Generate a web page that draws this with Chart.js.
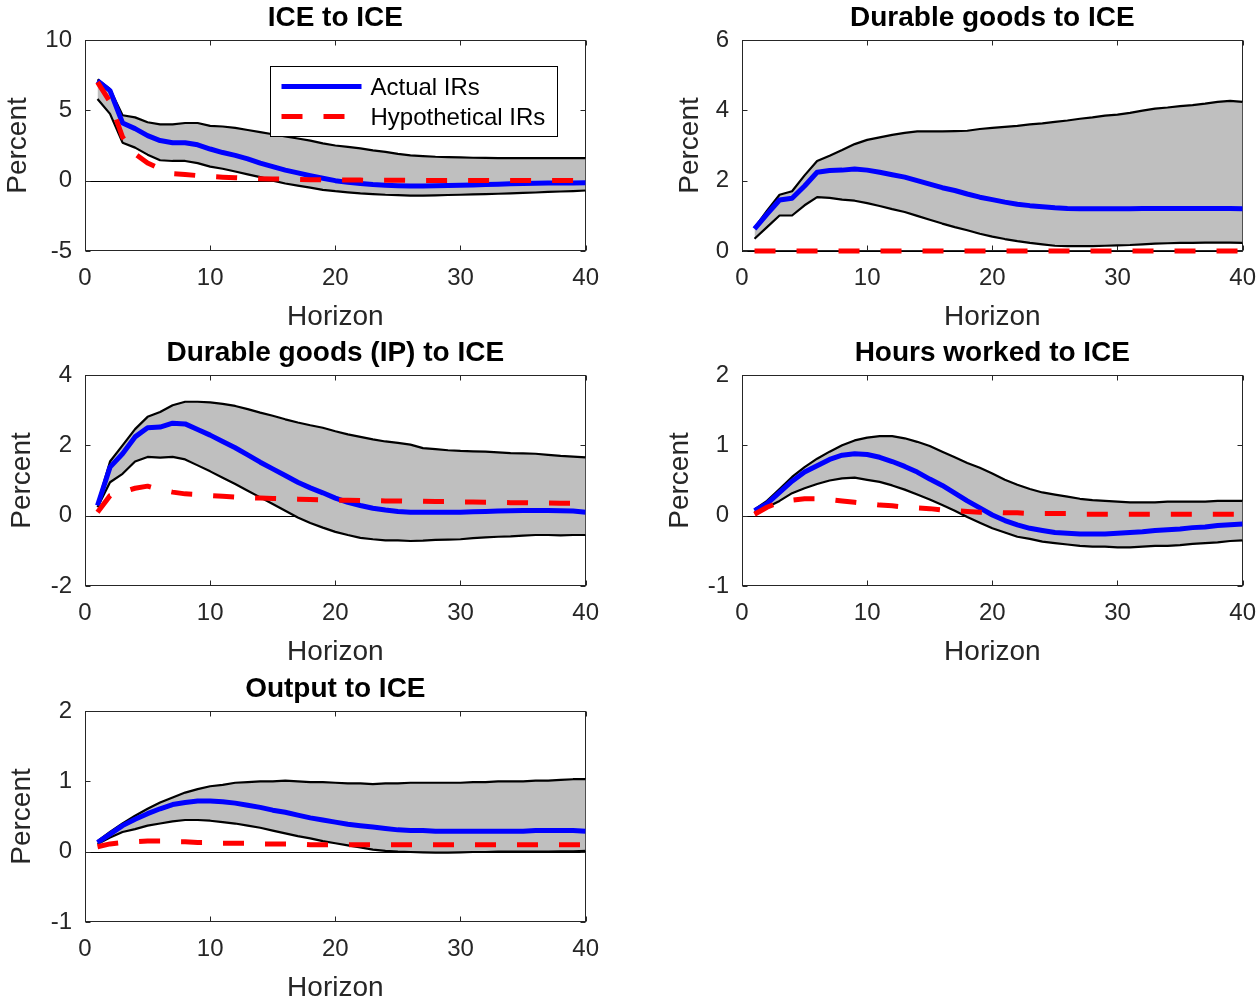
<!DOCTYPE html>
<html>
<head>
<meta charset="utf-8">
<script src="https://cdn.jsdelivr.net/npm/chart.js@4.4.1/dist/chart.umd.min.js"></script>
<style>
body{margin:0;background:#fff;width:1258px;height:1002px;overflow:hidden;position:relative}
canvas{position:absolute}
</style>
</head>
<body>
<canvas id="p1" width="612" height="335" style="left:0;top:0"></canvas>
<canvas id="p2" width="612" height="335" style="left:657px;top:0"></canvas>
<canvas id="p3" width="612" height="335" style="left:0;top:335px"></canvas>
<canvas id="p4" width="612" height="335" style="left:657px;top:335px"></canvas>
<canvas id="p5" width="612" height="335" style="left:0;top:671px"></canvas>
<script>
const horizon = [1,2,3,4,5,6,7,8,9,10,11,12,13,14,15,16,17,18,19,20,21,22,23,24,25,26,27,28,29,30,31,32,33,34,35,36,37,38,39,40]

// ICE to ICE
const iceActual = [7.1,6.4,4.1,3.7,3.2,2.85,2.7,2.7,2.55,2.25,2.0,1.8,1.55,1.25,1.0,0.75,0.55,0.35,0.17,0.0,-0.12,-0.2,-0.28,-0.33,-0.36,-0.38,-0.38,-0.37,-0.35,-0.32,-0.3,-0.28,-0.25,-0.22,-0.2,-0.18,-0.17,-0.16,-0.16,-0.15]
const iceUpper = [7.2,6.5,4.65,4.5,4.15,4.0,4.0,4.1,4.1,3.9,3.85,3.75,3.6,3.45,3.3,3.15,3.0,2.85,2.65,2.5,2.4,2.3,2.15,2.05,1.9,1.8,1.75,1.7,1.68,1.65,1.63,1.62,1.6,1.6,1.6,1.6,1.6,1.6,1.6,1.6]
const iceLower = [5.8,4.75,2.7,2.35,1.85,1.45,1.4,1.4,1.25,1.0,0.85,0.65,0.45,0.25,0.0,-0.2,-0.35,-0.5,-0.65,-0.75,-0.83,-0.9,-0.95,-1.0,-1.03,-1.07,-1.07,-1.05,-1.02,-1.0,-0.98,-0.96,-0.93,-0.9,-0.87,-0.84,-0.8,-0.77,-0.74,-0.7]
const iceHypo = [7.0,5.6,3.1,1.9,1.25,0.85,0.5,0.44,0.36,0.3,0.25,0.21,0.17,0.14,0.12,0.1,0.08,0.07,0.06,0.05,0.04,0.04,0.03,0.03,0.03,0.02,0.02,0.02,0.02,0.02,0.02,0.02,0.02,0.02,0.02,0.02,0.02,0.02,0.02,0.02]

// Durable goods to ICE
const durActual = [0.63,1.05,1.45,1.5,1.85,2.24,2.29,2.3,2.33,2.3,2.24,2.17,2.1,2.0,1.9,1.8,1.72,1.62,1.53,1.46,1.39,1.33,1.29,1.26,1.23,1.21,1.2,1.2,1.2,1.2,1.2,1.21,1.21,1.21,1.21,1.21,1.21,1.21,1.21,1.2]
const durUpper = [0.66,1.15,1.6,1.7,2.15,2.56,2.71,2.87,3.04,3.16,3.23,3.3,3.36,3.4,3.4,3.4,3.41,3.42,3.47,3.5,3.53,3.56,3.6,3.63,3.67,3.71,3.76,3.8,3.85,3.88,3.93,3.99,4.05,4.08,4.12,4.15,4.19,4.24,4.27,4.24]
const durLower = [0.35,0.68,1.01,1.01,1.3,1.53,1.51,1.46,1.43,1.36,1.28,1.19,1.11,1.0,0.89,0.78,0.68,0.59,0.49,0.41,0.34,0.28,0.23,0.19,0.15,0.14,0.14,0.14,0.15,0.16,0.17,0.19,0.21,0.22,0.23,0.23,0.24,0.24,0.24,0.23]
const durHypo = [0,0,0,0,0,0,0,0,0,0,0,0,0,0,0,0,0,0,0,0,0,0,0,0,0,0,0,0,0,0,0,0,0,0,0,0,0,0,0,0]

// Durable goods (IP) to ICE
const ipActual = [0.29,1.38,1.76,2.24,2.5,2.52,2.63,2.61,2.45,2.29,2.11,1.93,1.73,1.52,1.33,1.14,0.95,0.79,0.65,0.5,0.38,0.29,0.21,0.16,0.12,0.1,0.1,0.1,0.1,0.1,0.11,0.12,0.13,0.14,0.15,0.15,0.15,0.14,0.13,0.1]
const ipUpper = [0.33,1.54,2.0,2.46,2.81,2.95,3.14,3.24,3.24,3.22,3.18,3.12,3.03,2.93,2.84,2.74,2.65,2.57,2.5,2.4,2.31,2.24,2.17,2.11,2.07,2.02,1.92,1.89,1.86,1.84,1.83,1.82,1.8,1.78,1.77,1.76,1.73,1.7,1.68,1.66]
const ipLower = [0.24,0.95,1.19,1.54,1.67,1.65,1.67,1.6,1.43,1.26,1.08,0.9,0.71,0.52,0.33,0.14,-0.05,-0.21,-0.34,-0.46,-0.55,-0.63,-0.67,-0.7,-0.7,-0.72,-0.71,-0.69,-0.68,-0.67,-0.64,-0.62,-0.6,-0.59,-0.57,-0.55,-0.55,-0.56,-0.55,-0.55]
const ipHypo = [0.1,0.57,0.67,0.78,0.84,0.74,0.67,0.62,0.6,0.57,0.55,0.53,0.51,0.5,0.49,0.48,0.47,0.46,0.45,0.44,0.44,0.43,0.43,0.42,0.42,0.41,0.41,0.4,0.4,0.39,0.39,0.38,0.38,0.37,0.37,0.36,0.36,0.35,0.35,0.34]

// Hours worked to ICE
const hrsActual = [0.07,0.17,0.33,0.49,0.62,0.71,0.8,0.86,0.88,0.87,0.83,0.77,0.7,0.62,0.52,0.43,0.32,0.21,0.11,0.01,-0.07,-0.13,-0.18,-0.21,-0.24,-0.25,-0.26,-0.26,-0.26,-0.25,-0.24,-0.23,-0.21,-0.2,-0.19,-0.17,-0.16,-0.14,-0.13,-0.12]
const hrsUpper = [0.09,0.21,0.38,0.55,0.69,0.81,0.91,1.0,1.07,1.11,1.13,1.13,1.1,1.05,0.99,0.91,0.83,0.75,0.68,0.6,0.51,0.44,0.38,0.33,0.3,0.27,0.24,0.22,0.21,0.2,0.19,0.19,0.19,0.2,0.2,0.2,0.2,0.21,0.21,0.21]
const hrsLower = [0.05,0.12,0.21,0.32,0.39,0.45,0.5,0.53,0.54,0.51,0.48,0.43,0.37,0.3,0.23,0.15,0.07,-0.02,-0.1,-0.18,-0.24,-0.3,-0.33,-0.37,-0.39,-0.41,-0.43,-0.44,-0.44,-0.45,-0.45,-0.44,-0.43,-0.43,-0.42,-0.4,-0.39,-0.38,-0.36,-0.35]
const hrsHypo = [0.02,0.12,0.19,0.22,0.24,0.24,0.23,0.21,0.19,0.17,0.15,0.14,0.12,0.11,0.1,0.08,0.07,0.06,0.05,0.05,0.04,0.04,0.03,0.03,0.03,0.03,0.02,0.02,0.02,0.02,0.02,0.02,0.02,0.02,0.02,0.02,0.02,0.02,0.02,0.02]

// Output to ICE
const outActual = [0.13,0.25,0.37,0.46,0.54,0.61,0.67,0.7,0.72,0.72,0.71,0.69,0.66,0.63,0.59,0.56,0.52,0.48,0.45,0.42,0.39,0.37,0.35,0.33,0.31,0.3,0.3,0.29,0.29,0.29,0.29,0.29,0.29,0.29,0.29,0.3,0.3,0.3,0.3,0.29]
const outUpper = [0.15,0.28,0.4,0.51,0.61,0.7,0.77,0.84,0.89,0.93,0.95,0.98,0.99,1.0,1.0,1.01,1.0,0.99,0.99,0.98,0.97,0.97,0.96,0.97,0.97,0.98,0.98,0.98,0.98,0.98,0.99,0.99,1.0,1.0,1.0,1.01,1.01,1.02,1.03,1.03]
const outLower = [0.11,0.2,0.28,0.32,0.37,0.4,0.43,0.45,0.45,0.44,0.42,0.4,0.37,0.34,0.3,0.26,0.22,0.19,0.15,0.12,0.09,0.06,0.03,0.01,0.0,-0.005,-0.01,-0.015,-0.015,-0.01,-0.005,-0.005,0.0,0.0,0.0,0.0,0.0,0.005,0.005,0.01]
const outHypo = [0.07,0.11,0.13,0.14,0.15,0.15,0.14,0.14,0.13,0.13,0.12,0.12,0.12,0.11,0.11,0.11,0.11,0.1,0.1,0.1,0.1,0.1,0.1,0.1,0.1,0.1,0.1,0.1,0.1,0.1,0.1,0.1,0.1,0.1,0.1,0.1,0.1,0.1,0.1,0.1]

Chart.defaults.font.family = '"Liberation Sans", Arial, Helvetica, sans-serif'
const axisGray = "#262626"

// zero line under everything, then the axes box with inward ticks on all four sides
const frame = {
  id: "frame",
  beforeDatasetsDraw(chart) {
    const {ctx, chartArea: a, scales: {x, y}} = chart
    ctx.save()
    ctx.lineWidth = 1
    const y0 = Math.round(y.getPixelForValue(0)) + 0.5
    ctx.strokeStyle = "#000"
    ctx.beginPath()
    ctx.moveTo(a.left, y0)
    ctx.lineTo(a.right, y0)
    ctx.stroke()

    ctx.strokeStyle = axisGray
    const l = Math.round(a.left) + 0.5, r = Math.round(a.right) - 0.5
    const t = Math.round(a.top) + 0.5, b = Math.round(a.bottom) - 0.5
    ctx.strokeRect(l, t, r - l, b - t)
    ctx.beginPath()
    x.ticks.forEach(tk => {
      const px = Math.round(x.getPixelForValue(tk.value)) + 0.5
      ctx.moveTo(px, b); ctx.lineTo(px, b - 5)
      ctx.moveTo(px, t); ctx.lineTo(px, t + 5)
    })
    y.ticks.forEach(tk => {
      const py = Math.round(y.getPixelForValue(tk.value)) + 0.5
      ctx.moveTo(l, py); ctx.lineTo(l + 5, py)
      ctx.moveTo(r, py); ctx.lineTo(r - 5, py)
    })
    ctx.stroke()
    ctx.restore()
  }
}

// boxed legend in the upper right of the first panel
const legendBox = {
  id: "legendBox",
  afterDatasetsDraw(chart) {
    const {ctx, chartArea: a} = chart
    const ds = chart.data.datasets
    const items = [ds[1], ds[0]]
    const bx = a.left + 185.5, by = a.top + 26.5, bw = 287, bh = 70
    ctx.save()
    ctx.fillStyle = "#fff"
    ctx.fillRect(bx, by, bw, bh)
    ctx.strokeStyle = "#000"
    ctx.lineWidth = 1
    ctx.strokeRect(bx, by, bw, bh)
    items.forEach((d, i) => {
      const ly = by + 20 + i * 30
      ctx.beginPath()
      ctx.strokeStyle = d.borderColor
      ctx.lineWidth = d.borderWidth
      ctx.setLineDash(d.borderDash || [])
      ctx.moveTo(bx + 11, ly)
      ctx.lineTo(bx + 91, ly)
      ctx.stroke()
      ctx.setLineDash([])
      ctx.fillStyle = "#000"
      ctx.font = '24px "Liberation Sans", Arial, sans-serif'
      ctx.textBaseline = "middle"
      ctx.textAlign = "left"
      ctx.fillText(d.label, bx + 100, ly + 1.5)
    })
    ctx.restore()
  }
}

function irfChart(id, title, lower, upper, actual, hypo, yMin, yMax, yStep, labelPad, withLegend) {
  const plugins = [frame]
  if (withLegend) plugins.push(legendBox)
  return new Chart(document.getElementById(id), {
    type: "line",
    data: {
      labels: horizon,
      datasets: [
        {label: "Hypothetical IRs", data: hypo, borderColor: "#ff0000", borderWidth: 5, borderDash: [21, 21], clip: false},
        {label: "Actual IRs", data: actual, borderColor: "#0000ff", borderWidth: 5},
        {data: lower, borderColor: "#000", borderWidth: 2.2},
        {data: upper, borderColor: "#000", borderWidth: 2.2, fill: "-1", backgroundColor: "#bfbfbf"}
      ]
    },
    options: {
      responsive: false,
      animation: false,
      events: [],
      layout: {padding: {right: 3}},
      elements: {
        point: {radius: 0},
        line: {tension: 0, borderJoinStyle: "round", fill: false}
      },
      plugins: {
        legend: {display: false},
        tooltip: {enabled: false},
        title: {
          display: true,
          text: title,
          fullSize: false,
          color: "#000",
          font: {size: 28, weight: "bold"},
          padding: {top: 1, bottom: 5.4}
        }
      },
      scales: {
        x: {
          type: "linear",
          min: 0,
          max: 40,
          grid: {display: false, drawTicks: false},
          border: {display: false},
          ticks: {stepSize: 10, autoSkip: false, maxRotation: 0, padding: 13, color: axisGray, font: {size: 24}},
          title: {display: true, text: "Horizon", color: axisGray, font: {size: 28}, padding: {top: 0, bottom: 1.2}},
          afterFit: s => { s.height = 84 }
        },
        y: {
          min: yMin,
          max: yMax,
          grid: {display: false, drawTicks: false},
          border: {display: false},
          ticks: {stepSize: yStep, autoSkip: false, padding: 13, color: axisGray, font: {size: 24}, callback: v => String(v)},
          title: {display: true, text: "Percent", color: axisGray, font: {size: 28}, padding: {top: labelPad, bottom: 0}},
          afterFit: s => { s.width = 85 }
        }
      }
    },
    plugins: plugins
  })
}

irfChart("p1", "ICE to ICE", iceLower, iceUpper, iceActual, iceHypo, -5, 10, 5, 1.2, true)
irfChart("p2", "Durable goods to ICE", durLower, durUpper, durActual, durHypo, 0, 6, 2, 16.2, false)
irfChart("p3", "Durable goods (IP) to ICE", ipLower, ipUpper, ipActual, ipHypo, -2, 4, 2, 5.2, false)
irfChart("p4", "Hours worked to ICE", hrsLower, hrsUpper, hrsActual, hrsHypo, -1, 2, 1, 6.2, false)
irfChart("p5", "Output to ICE", outLower, outUpper, outActual, outHypo, -1, 2, 1, 5.2, false)
</script>
</body>
</html>
